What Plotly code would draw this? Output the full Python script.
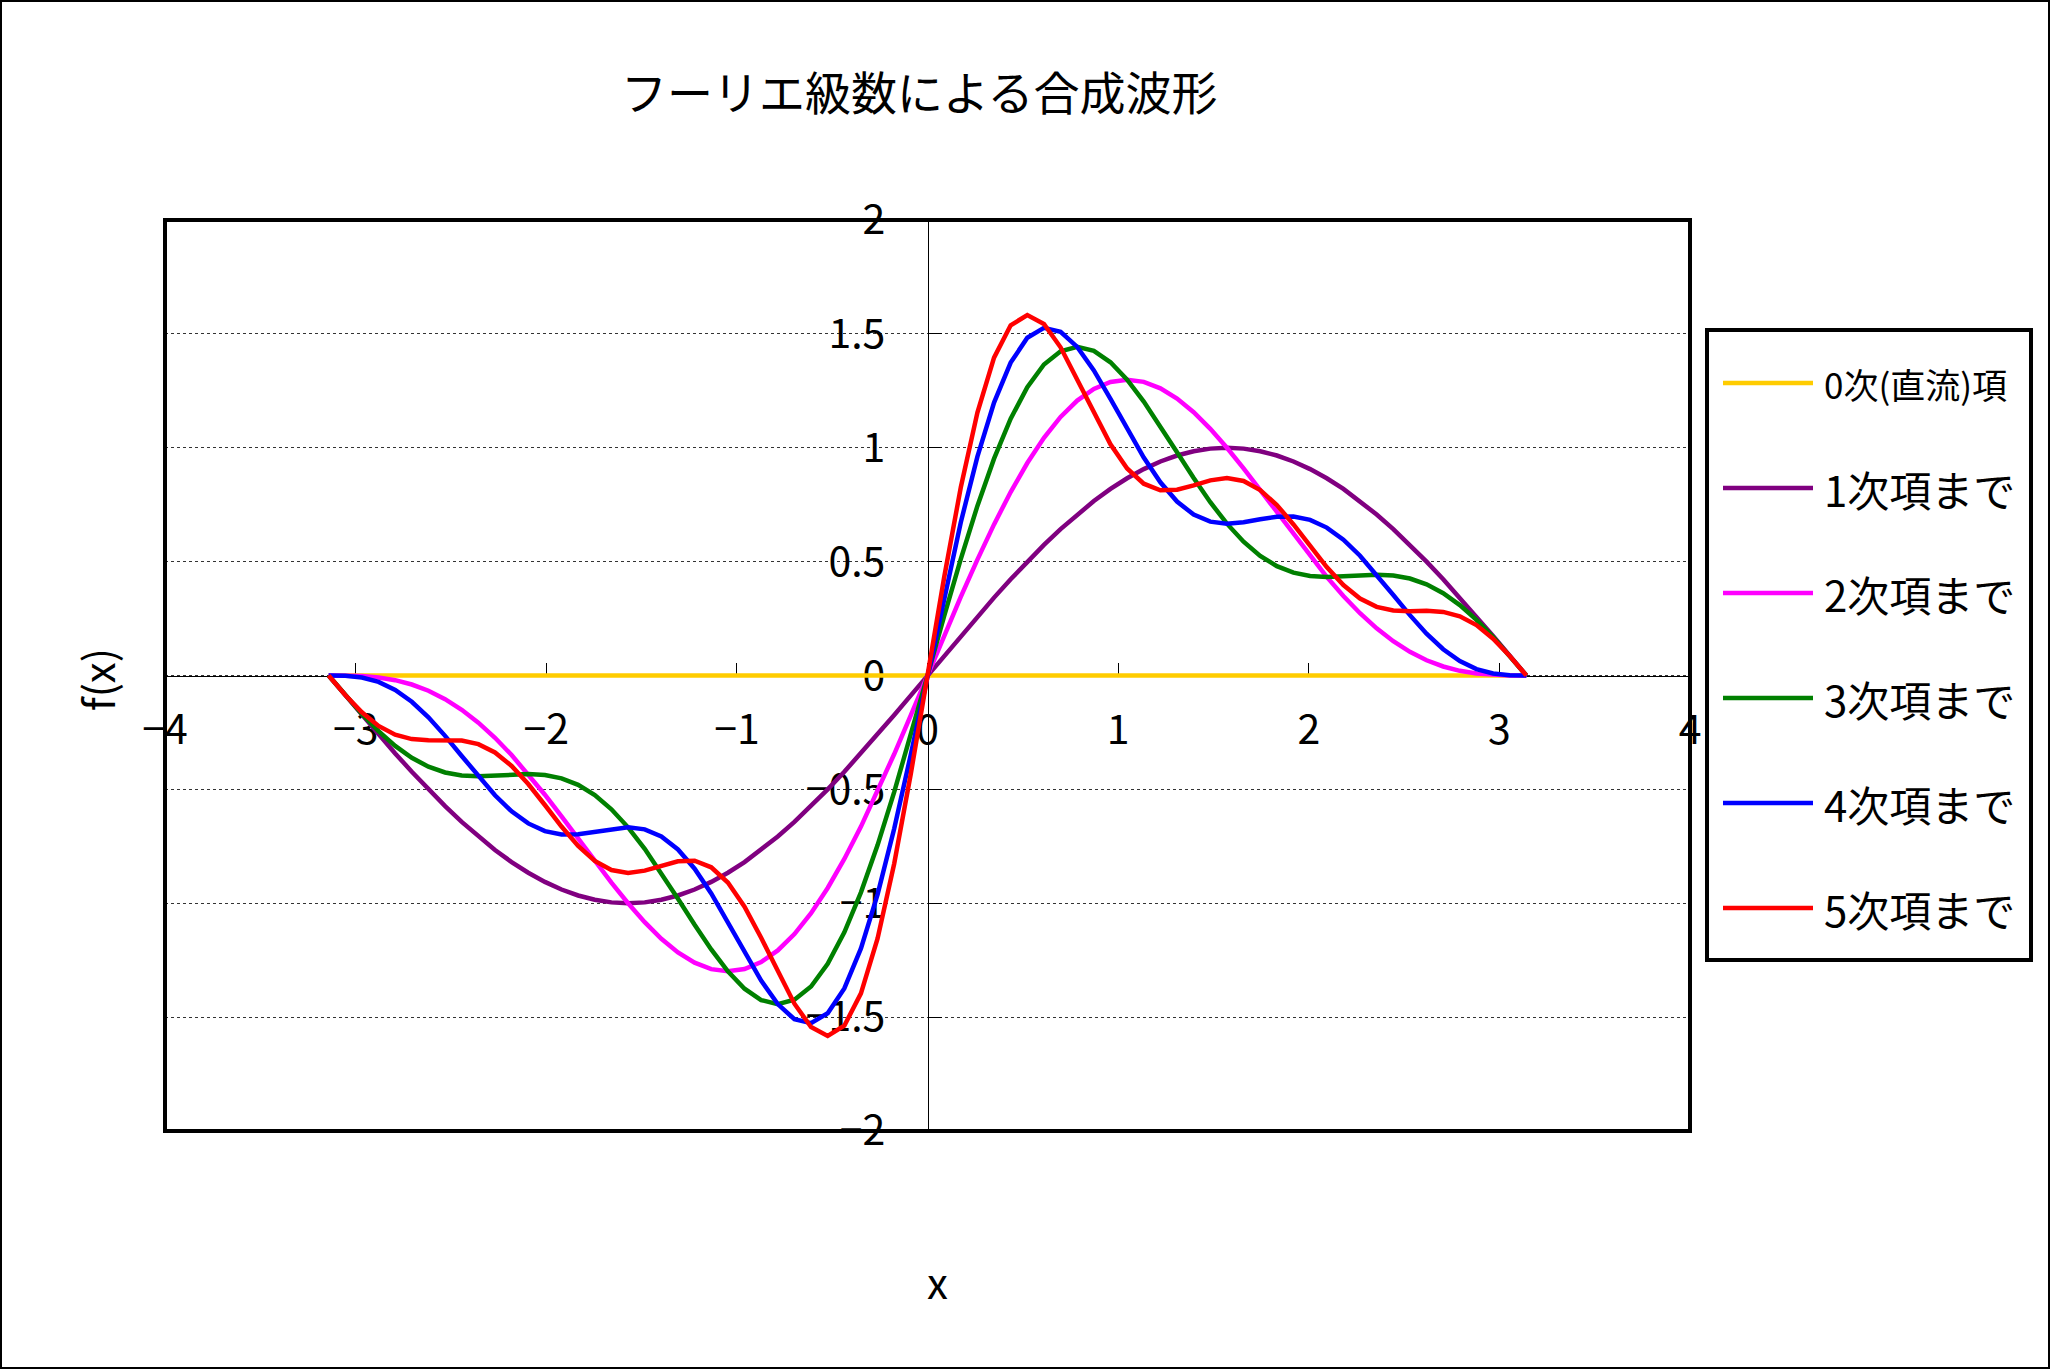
import plotly.graph_objects as go

# ---------------- data ----------------
x_vals = [-3.1416, -3.0543, -2.9671, -2.8798, -2.7925, -2.7053, -2.6180, -2.5307, -2.4435, -2.3562,
          -2.2689, -2.1817, -2.0944, -2.0071, -1.9199, -1.8326, -1.7453, -1.6581, -1.5708, -1.4835,
          -1.3963, -1.3090, -1.2217, -1.1345, -1.0472, -0.9599, -0.8727, -0.7854, -0.6981, -0.6109,
          -0.5236, -0.4363, -0.3491, -0.2618, -0.1745, -0.0873, 0.0,
          0.0873, 0.1745, 0.2618, 0.3491, 0.4363, 0.5236, 0.6109, 0.6981, 0.7854, 0.8727,
          0.9599, 1.0472, 1.1345, 1.2217, 1.3090, 1.3963, 1.4835, 1.5708, 1.6581, 1.7453,
          1.8326, 1.9199, 2.0071, 2.0944, 2.1817, 2.2689, 2.3562, 2.4435, 2.5307, 2.6180,
          2.7053, 2.7925, 2.8798, 2.9671, 3.0543, 3.1416]

y_order0 = [0, 0, 0, 0, 0, 0, 0, 0, 0, 0, 0, 0, 0, 0, 0, 0, 0, 0, 0, 0,
            0, 0, 0, 0, 0, 0, 0, 0, 0, 0, 0, 0, 0, 0, 0, 0, 0,
            0, 0, 0, 0, 0, 0, 0, 0, 0, 0, 0, 0, 0, 0, 0, 0, 0, 0, 0, 0,
            0, 0, 0, 0, 0, 0, 0, 0, 0, 0, 0, 0, 0, 0, 0, 0]

y_order1 = [0, -0.0872, -0.1737, -0.2588, -0.3420, -0.4226, -0.5000, -0.5736, -0.6428, -0.7071,
            -0.7660, -0.8192, -0.8660, -0.9063, -0.9397, -0.9659, -0.9848, -0.9962, -1.0000, -0.9962,
            -0.9848, -0.9659, -0.9397, -0.9063, -0.8660, -0.8192, -0.7660, -0.7071, -0.6428, -0.5736,
            -0.5000, -0.4226, -0.3420, -0.2588, -0.1737, -0.0872, 0,
            0.0872, 0.1737, 0.2588, 0.3420, 0.4226, 0.5000, 0.5736, 0.6428, 0.7071, 0.7660,
            0.8192, 0.8660, 0.9063, 0.9397, 0.9659, 0.9848, 0.9962, 1.0000, 0.9962, 0.9848,
            0.9659, 0.9397, 0.9063, 0.8660, 0.8192, 0.7660, 0.7071, 0.6428, 0.5736, 0.5000,
            0.4226, 0.3420, 0.2588, 0.1737, 0.0872, 0]

y_order2 = [0, -0.0003, -0.0026, -0.0088, -0.0206, -0.0396, -0.0670, -0.1037, -0.1504, -0.2071,
            -0.2736, -0.3493, -0.4330, -0.5233, -0.6183, -0.7159, -0.8138, -0.9094, -1.0000, -1.0830,
            -1.1558, -1.2159, -1.2611, -1.2893, -1.2990, -1.2890, -1.2584, -1.2071, -1.1352, -1.0434,
            -0.9330, -0.8056, -0.6634, -0.5088, -0.3447, -0.1740, 0,
            0.1740, 0.3447, 0.5088, 0.6634, 0.8056, 0.9330, 1.0434, 1.1352, 1.2071, 1.2584,
            1.2890, 1.2990, 1.2893, 1.2611, 1.2159, 1.1558, 1.0830, 1.0000, 0.9094, 0.8138,
            0.7159, 0.6183, 0.5233, 0.4330, 0.3493, 0.2736, 0.2071, 0.1504, 0.1037, 0.0670,
            0.0396, 0.0206, 0.0088, 0.0026, 0.0003, 0]

y_order3 = [0, -0.0866, -0.1693, -0.2445, -0.3093, -0.3616, -0.4003, -0.4257, -0.4391, -0.4428,
            -0.4403, -0.4356, -0.4330, -0.4370, -0.4516, -0.4802, -0.5251, -0.5874, -0.6667, -0.7610,
            -0.8671, -0.9802, -1.0944, -1.2030, -1.2990, -1.3753, -1.4251, -1.4428, -1.4239, -1.3654,
            -1.2663, -1.1276, -0.9521, -0.7445, -0.5113, -0.2603, 0,
            0.2603, 0.5113, 0.7445, 0.9521, 1.1276, 1.2663, 1.3654, 1.4239, 1.4428, 1.4251,
            1.3753, 1.2990, 1.2030, 1.0944, 0.9802, 0.8671, 0.7610, 0.6667, 0.5874, 0.5251,
            0.4802, 0.4516, 0.4370, 0.4330, 0.4356, 0.4403, 0.4428, 0.4391, 0.4257, 0.4003,
            0.3616, 0.3093, 0.2445, 0.1693, 0.0866, 0]

y_order4 = [0, -0.0011, -0.0086, -0.0280, -0.0631, -0.1154, -0.1838, -0.2650, -0.3536, -0.4428,
            -0.5258, -0.5963, -0.6495, -0.6832, -0.6978, -0.6967, -0.6858, -0.6729, -0.6667, -0.6755,
            -0.7064, -0.7637, -0.8482, -0.9568, -1.0825, -1.2146, -1.3396, -1.4428, -1.5094, -1.5261,
            -1.4828, -1.3738, -1.1983, -0.9610, -0.6720, -0.3458, 0,
            0.3458, 0.6720, 0.9610, 1.1983, 1.3738, 1.4828, 1.5261, 1.5094, 1.4428, 1.3396,
            1.2146, 1.0825, 0.9568, 0.8482, 0.7637, 0.7064, 0.6755, 0.6667, 0.6729, 0.6858,
            0.6967, 0.6978, 0.6832, 0.6495, 0.5963, 0.5258, 0.4428, 0.3536, 0.2650, 0.1838,
            0.1154, 0.0631, 0.0280, 0.0086, 0.0011, 0]

y_order5 = [0, -0.0856, -0.1618, -0.2212, -0.2601, -0.2792, -0.2838, -0.2824, -0.2852, -0.3014,
            -0.3379, -0.3971, -0.4763, -0.5685, -0.6631, -0.7485, -0.8144, -0.8542, -0.8667, -0.8568,
            -0.8350, -0.8155, -0.8135, -0.8421, -0.9093, -1.0154, -1.1517, -1.3014, -1.4410, -1.5435,
            -1.5828, -1.5376, -1.3953, -1.1542, -0.8252, -0.4303, 0,
            0.4303, 0.8252, 1.1542, 1.3953, 1.5376, 1.5828, 1.5435, 1.4410, 1.3014, 1.1517,
            1.0154, 0.9093, 0.8421, 0.8135, 0.8155, 0.8350, 0.8568, 0.8667, 0.8542, 0.8144,
            0.7485, 0.6631, 0.5685, 0.4763, 0.3971, 0.3379, 0.3014, 0.2852, 0.2824, 0.2838,
            0.2792, 0.2601, 0.2212, 0.1618, 0.0856, 0]

series_names = ["0次(直流)項", "1次項まで", "2次項まで", "3次項まで", "4次項まで", "5次項まで"]
series_values = [y_order0, y_order1, y_order2, y_order3, y_order4, y_order5]
series_colors = ["#FFCC00", "#800080", "#FF00FF", "#008000", "#0000FF", "#FF0000"]

title_text = "フーリエ級数による合成波形"
x_title = "x"
y_title = "f(x)"

# ---------------- layout geometry (pixels) ----------------
W, H = 2050, 1369
L, R, T, B = 165, 1690, 220, 1131
FONT = "Noto Sans CJK JP"
LW = 4.5


def px_x(p):
    return (p - L) / (R - L)


def px_y(p):
    return (B - p) / (B - T)


fig = go.Figure()
for name, vals, col in zip(series_names, series_values, series_colors):
    fig.add_trace(go.Scatter(x=x_vals, y=vals, mode="lines", name=name,
                             line=dict(color=col, width=LW), showlegend=False))

shapes = []
# plot-area frame
shapes.append(dict(type="rect", xref="paper", yref="paper", x0=0, x1=1, y0=0, y1=1,
                   line=dict(color="black", width=4), layer="above"))
# outer chart border
shapes.append(dict(type="rect", xref="paper", yref="paper",
                   x0=px_x(1), x1=px_x(W - 1), y0=px_y(H - 1), y1=px_y(1),
                   line=dict(color="black", width=2)))
# legend box
shapes.append(dict(type="rect", xref="paper", yref="paper",
                   x0=px_x(1707), x1=px_x(2031), y0=px_y(960), y1=px_y(330),
                   line=dict(color="black", width=4)))

annotations = []
for i, (name, col) in enumerate(zip(series_names, series_colors)):
    yy = 383 + 105 * i
    shapes.append(dict(type="line", xref="paper", yref="paper",
                       x0=px_x(1723), x1=px_x(1813), y0=px_y(yy), y1=px_y(yy),
                       line=dict(color=col, width=LW)))
    annotations.append(dict(xref="paper", yref="paper", x=px_x(1822), y=px_y(yy),
                            text=name, showarrow=False, xanchor="left", yanchor="middle",
                            font=dict(size=35 if i == 0 else 42, family=FONT, color="black")))

annotations.append(dict(xref="paper", yref="paper", x=px_x(919), y=px_y(90), text=title_text,
                        showarrow=False, xanchor="center", yanchor="middle",
                        font=dict(size=46, family=FONT, color="black")))
annotations.append(dict(xref="paper", yref="paper", x=px_x(937), y=px_y(1280), text=x_title,
                        showarrow=False, xanchor="center", yanchor="middle",
                        font=dict(size=42, family=FONT, color="black")))
annotations.append(dict(xref="paper", yref="paper", x=px_x(96), y=px_y(680), text=y_title,
                        showarrow=False, xanchor="center", yanchor="middle", textangle=-90,
                        font=dict(size=42, family=FONT, color="black")))

fig.update_layout(
    width=W, height=H,
    margin=dict(l=L, r=W - R, t=T, b=H - B, pad=0),
    paper_bgcolor="white", plot_bgcolor="white",
    font=dict(family=FONT, color="black"),
    shapes=shapes, annotations=annotations,
    showlegend=False,
    xaxis=dict(range=[-4, 4], tick0=0, dtick=1, showgrid=False, zeroline=False,
               showline=True, linecolor="black", linewidth=1,
               anchor="free", position=0.5, layer="below traces",
               ticks="inside", ticklen=13, tickcolor="black", tickwidth=1,
               tickfont=dict(size=41, family=FONT, color="black"),
               ticklabelstandoff=18, fixedrange=True),
    yaxis=dict(range=[-2, 2], tick0=0, dtick=0.5, showgrid=True, gridcolor="#333333",
               griddash="dot", gridwidth=1, zeroline=False,
               showline=True, linecolor="black", linewidth=1,
               anchor="free", position=0.5, layer="below traces",
               ticks="inside", ticklen=13, tickcolor="black", tickwidth=1,
               tickfont=dict(size=41, family=FONT, color="black"),
               ticklabelstandoff=34, fixedrange=True),
)

fig.write_html("out.html", include_plotlyjs=True, full_html=True)
